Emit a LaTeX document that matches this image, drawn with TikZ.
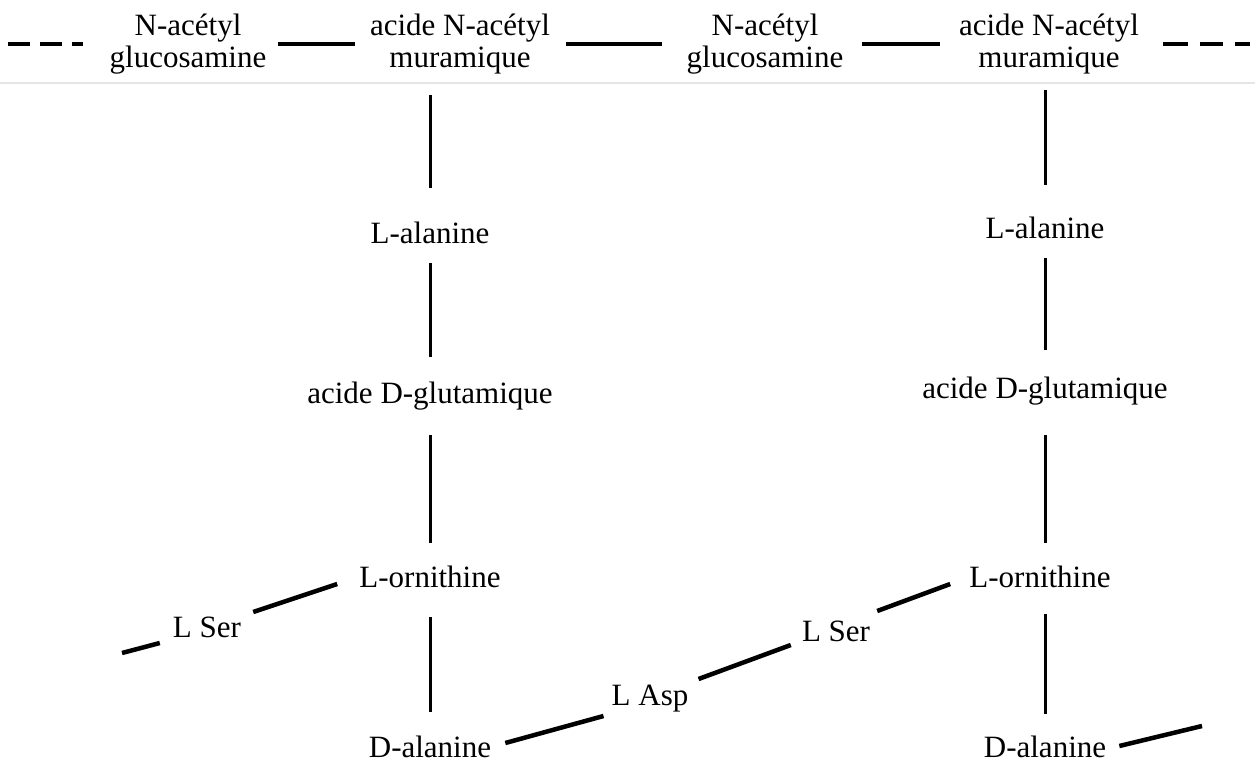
\documentclass[tikz,border=0pt]{standalone}
\usepackage{fontspec}
\setmainfont{Liberation Serif}
\begin{document}
\begin{tikzpicture}[x=1pt,y=-1pt,
  lbl/.style={font=\fontsize{31}{32}\selectfont, inner sep=0pt, text height=21pt, text depth=7pt, anchor=base},
  toplbl/.style={font=\fontsize{31}{32}\selectfont, inner sep=0pt, align=center},
  vlink/.style={line width=3pt},
  dlink/.style={line width=4.5pt},
  hlink/.style={line width=4.5pt},
  faint/.style={line width=2pt, black!10}]
\useasboundingbox (0,0) rectangle (1255,764);
\draw[faint] (0,83) -- (1255,83);
% top row
\node[toplbl] (g1) at (188,44) {N-acétyl\\glucosamine};
\node[toplbl] (m1) at (460,44) {acide N-acétyl\\muramique};
\node[toplbl] (g2) at (765,44) {N-acétyl\\glucosamine};
\node[toplbl] (m2) at (1049,44) {acide N-acétyl\\muramique};
\coordinate (dl) at (8,44);
\coordinate (dr) at (1250,44);
\draw[hlink, dash pattern=on 22pt off 10pt on 22pt off 10pt on 20pt] (dl) -- ([xshift=-26pt]g1.west);
\draw[hlink, shorten <=11pt, shorten >=15pt] (g1.east) -- (m1.west);
\draw[hlink, shorten <=16pt, shorten >=24pt] (m1.east) -- (g2.west);
\draw[hlink, shorten <=18pt, shorten >=19pt] (g2.east) -- (m2.west);
\draw[hlink, dash pattern=on 25pt off 12pt on 23pt off 12pt on 20pt] ([xshift=24pt]m2.east) -- (dr);
% left column
\node[lbl] (la1) at (430,243) {L-alanine};
\node[lbl] (dg1) at (430,403) {acide D-glutamique};
\node[lbl] (lo1) at (430,587) {L-ornithine};
\node[lbl] (da1) at (430,757) {D-alanine};
\node[lbl] (ls1) at (207,637) {L Ser};
% right column
\node[lbl] (la2) at (1045,238) {L-alanine};
\node[lbl] (dg2) at (1045,398) {acide D-glutamique};
\node[lbl] (lo2) at (1040,587) {L-ornithine};
\node[lbl] (da2) at (1045,757) {D-alanine};
\node[lbl] (ls2) at (836,641) {L Ser};
\node[lbl] (asp) at (650,705) {L Asp};
% vertical links
\draw[vlink, shorten <=21pt, shorten >=34pt] (m1.south -| la1.north) -- (la1.north);
\draw[vlink, shorten <=13pt, shorten >=25pt] (la1.south) -- (dg1.north);
\draw[vlink, shorten <=25pt, shorten >=23pt] (dg1.south) -- (dg1.south |- lo1.north);
\draw[vlink, shorten <=23pt, shorten >=24pt] (lo1.south -| la1) -- (da1.north -| la1);
\draw[vlink, shorten <=16pt, shorten >=32pt] (m2.south -| la2.north) -- (la2.north);
\draw[vlink, shorten <=13pt, shorten >=27pt] (la2.south) -- (dg2.north);
\draw[vlink, shorten <=30pt, shorten >=23pt] (dg2.south) -- (dg2.south |- lo2.north);
\draw[vlink, shorten <=20pt, shorten >=22pt] (lo2.south -| la2) -- (da2.north -| la2);
% diagonal links
\coordinate (c1) at (122,653);
\coordinate (c2) at (1202,726);
\draw[dlink] (c1) -- ([shift={(-13,13)}]ls1.west);
\draw[dlink] ([shift={(12,-18)}]ls1.east) -- ([shift={(-22,4)}]lo1.west);
\draw[dlink] ([shift={(14,-7)}]da1.east) -- ([shift={(-8,18)}]asp.west);
\draw[dlink] ([shift={(10,-19)}]asp.east) -- ([shift={(-11,11)}]ls2.west);
\draw[dlink] ([shift={(7,-23)}]ls2.east) -- ([shift={(-19,4)}]lo2.west);
\draw[dlink] ([shift={(13,-4)}]da2.east) -- (c2);
\end{tikzpicture}
\end{document}
